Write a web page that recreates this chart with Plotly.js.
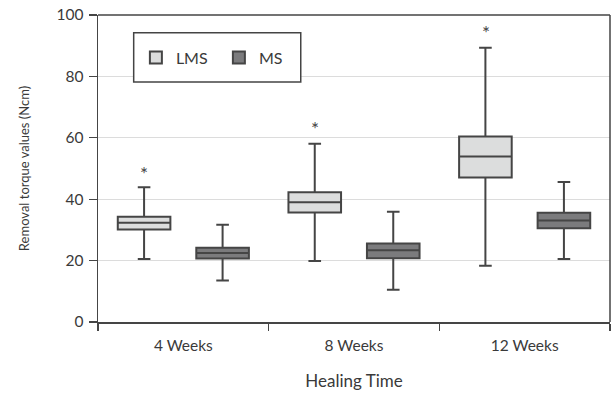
<!DOCTYPE html>
<html>
<head>
<meta charset="utf-8">
<script src="https://cdn.plot.ly/plotly-3.0.1.min.js"></script>
<style>html,body{margin:0;padding:0;background:#fff;}#chart{width:614px;height:393px;}</style>
</head>
<body>
<div id="chart"></div>
<script>
const categories = ['4 Weeks', '8 Weeks', '12 Weeks'];
const seriesNames = ['LMS', 'MS'];
const lmsLower = [20.5, 19.9, 18.3];
const lmsQ1 = [30.1, 35.7, 47.1];
const lmsMedian = [32.3, 39.0, 53.9];
const lmsQ3 = [34.3, 42.3, 60.4];
const lmsUpper = [43.9, 58.1, 89.3];
const lmsOutlierMark = [49.0, 63.6, 94.9];
const msLower = [13.5, 10.5, 20.5];
const msQ1 = [20.7, 20.8, 30.5];
const msMedian = [22.5, 23.4, 33.1];
const msQ3 = [24.2, 25.6, 35.6];
const msUpper = [31.7, 35.9, 45.6];
const yTicks = [0, 20, 40, 60, 80, 100];

const FONT = 'Lato, "Open Sans", sans-serif';
const lineCol = '#454545';
const textCol = '#3a3a3a';

function boxTrace(name, q1, med, q3, lo, hi, fill) {
  return {
    type: 'box', name: name, x: categories,
    q1: q1, median: med, q3: q3, lowerfence: lo, upperfence: hi,
    fillcolor: fill, line: {color: lineCol, width: 2},
    whiskerwidth: 0.24, boxpoints: false, hoverinfo: 'skip'
  };
}

const data = [
  boxTrace(seriesNames[0], lmsQ1, lmsMedian, lmsQ3, lmsLower, lmsUpper, '#dcdddd'),
  boxTrace(seriesNames[1], msQ1, msMedian, msQ3, msLower, msUpper, '#7b7b7d')
];

const annotations = categories.map((c, i) => ({
  x: c, y: lmsOutlierMark[i], xref: 'x', yref: 'y', text: '*', showarrow: false,
  xshift: -39, yshift: -2, font: {family: FONT, size: 19, color: '#444'}
}));

const layout = {
  width: 614, height: 393,
  margin: {l: 98, r: 4, t: 15, b: 71},
  paper_bgcolor: '#fff', plot_bgcolor: '#fff',
  font: {family: FONT, color: textCol, size: 14},
  boxmode: 'group', boxgap: 0.08, boxgroupgap: 0.33,
  showlegend: true,
  legend: {
    orientation: 'h', x: 0.074, y: 0.861, xanchor: 'left', yanchor: 'middle',
    borderwidth: 0, bgcolor: 'rgba(0,0,0,0)',
    font: {family: FONT, size: 16, color: textCol}, entrywidth: 38
  },
  xaxis: {
    type: 'category', tickson: 'boundaries', ticks: 'outside', ticklen: 7, tickwidth: 1.2,
    tickcolor: lineCol, showline: true, linecolor: lineCol, linewidth: 1.5,
    showgrid: false, ticklabelstandoff: 9, tickfont: {family: FONT, size: 15.5, color: textCol},
    title: {text: 'Healing Time', font: {family: FONT, size: 17, color: textCol}, standoff: 22}
  },
  yaxis: {
    range: [0, 100], tickvals: yTicks, ticks: 'outside', ticklen: 8, tickwidth: 1.2,
    tickcolor: lineCol, showline: true, linecolor: lineCol, linewidth: 1.5,
    showgrid: true, gridcolor: '#dcdcdc', gridwidth: 1.2, zeroline: false,
    ticklabelstandoff: 2, tickfont: {family: FONT, size: 15.5, color: textCol},
    title: {text: 'Removal torque values (Ncm)', font: {family: FONT, size: 13, color: textCol}, standoff: 24}
  },
  shapes: [
    {type: 'line', xref: 'paper', yref: 'paper', x0: 0, x1: 1, y0: 1, y1: 1, line: {color: lineCol, width: 1.5}},
    {type: 'line', xref: 'paper', yref: 'paper', x0: 1, x1: 1, y0: 0, y1: 1, line: {color: lineCol, width: 1.5}},
    {type: 'rect', xref: 'paper', yref: 'paper', x0: 0.0697, x1: 0.396, y0: 0.7818, y1: 0.9423,
     fillcolor: '#fff', line: {color: '#444', width: 1.5}, layer: 'above'}
  ],
  annotations: annotations
};

Plotly.newPlot('chart', data, layout, {displayModeBar: false, staticPlot: true});
</script>
</body>
</html>
